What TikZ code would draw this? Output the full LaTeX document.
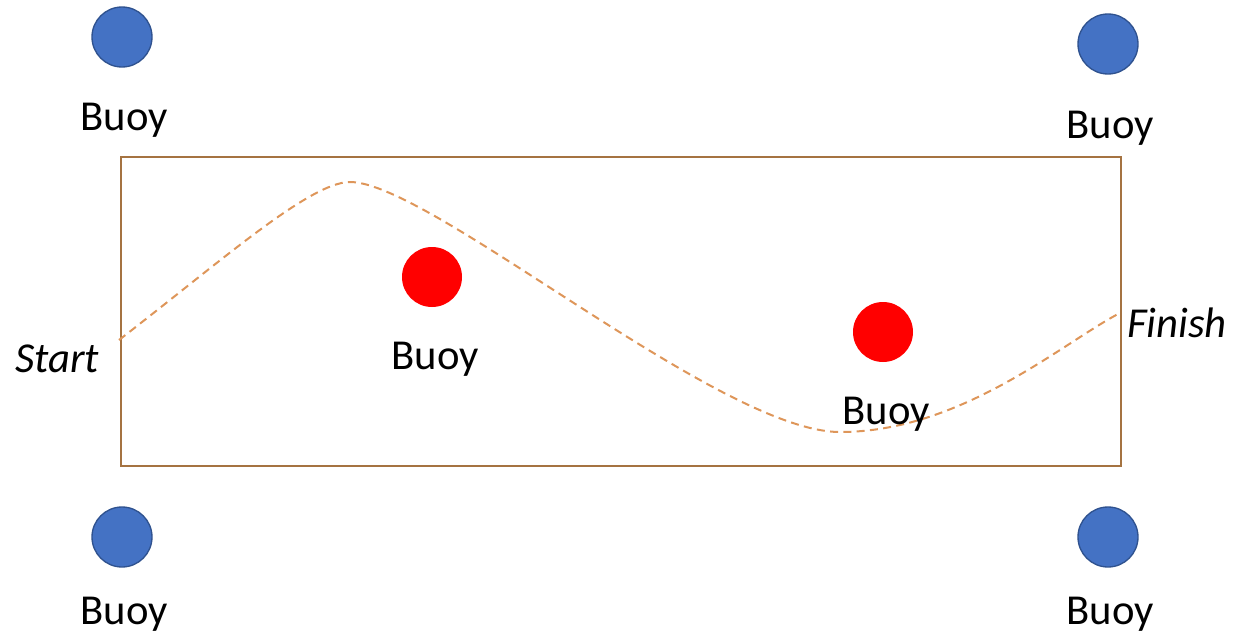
\documentclass[tikz,border=0pt]{standalone}
\usepackage{fontspec}
\setmainfont{Carlito}
\begin{document}
\begin{tikzpicture}[x=0.75pt,y=-0.75pt,
  bluebuoy/.style={circle,fill=buoyblue,draw=buoyedge,line width=1pt,minimum size=60*0.75pt,inner sep=0pt},
  redbuoy/.style={circle,fill=red,minimum size=60*0.75pt,inner sep=0pt},
  lbl/.style={font=\fontsize{32}{36}\selectfont,inner sep=0pt,anchor=center},
  ilbl/.style={font=\fontsize{32}{36}\selectfont\itshape,inner sep=0pt,anchor=center},
  course/.style={draw=coursebrown,line width=1.6pt},
  path/.style={draw=pathorange,line width=1.5pt,dash pattern=on 6pt off 4pt}]
\definecolor{buoyblue}{RGB}{68,114,196}
\definecolor{buoyedge}{RGB}{47,82,143}
\definecolor{coursebrown}{RGB}{165,115,65}
\definecolor{pathorange}{RGB}{222,150,90}
\useasboundingbox (0,0) rectangle (1233,636);
\draw[course] (121,157) rectangle (1121,466);
% blue buoys
\node[bluebuoy] (b1) at (122,37) {};
\node[bluebuoy] (b2) at (1108,44) {};
\node[bluebuoy] (b3) at (122,537) {};
\node[bluebuoy] (b4) at (1108,537) {};
\node[lbl] (l1) at (124,120) {Buoy};
\node[lbl] (l2) at (1110,128) {Buoy};
\node[lbl] (l3) at (124,614) {Buoy};
\node[lbl] (l4) at (1110,614) {Buoy};
% red buoys
\node[redbuoy] (r1) at (432,277) {};
\node[redbuoy] (r2) at (883,332) {};
% path
\coordinate (s) at (119,340);
\coordinate (p) at (350,182);
\coordinate (t) at (840,432);
\coordinate (f) at (1118,314);
\draw[path] (s) .. controls (220,262) and (310,182) .. (p)
  .. controls (430,182) and (720,432) .. (t)
  .. controls (960,432) and (1060,345) .. (f);
\node[lbl] (l5) at (435,359) {Buoy};
\node[lbl] (l6) at (886,414) {Buoy};
\node[ilbl] (st) at (57,359) {Start};
\node[ilbl] (fi) at (1177,323) {Finish};
\end{tikzpicture}
\end{document}
